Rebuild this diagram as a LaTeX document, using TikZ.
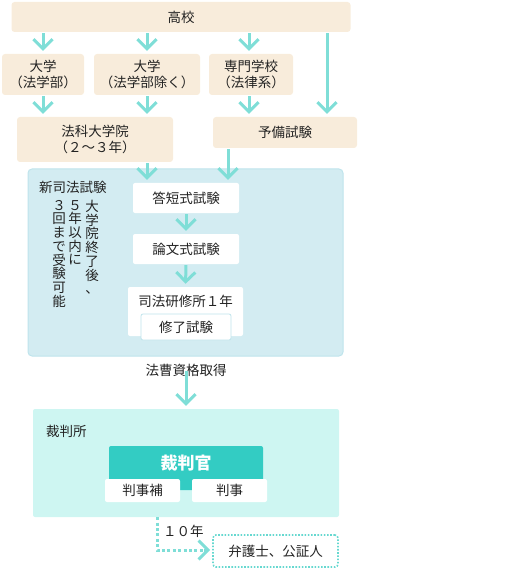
\documentclass[tikz,border=0pt]{standalone}
\usepackage{fontspec}
\setmainfont{Noto Sans CJK JP}
\usetikzlibrary{arrows.meta}
\definecolor{beigeC}{HTML}{F8ECDB}
\definecolor{arrC}{HTML}{7FDED7}
\definecolor{shinC}{HTML}{D3ECF2}
\definecolor{shinB}{HTML}{BFE4EC}
\definecolor{courtC}{HTML}{CEF6F2}
\definecolor{judgeC}{HTML}{33CCC3}
\definecolor{txtC}{HTML}{222222}
\definecolor{dotC}{HTML}{66D8D0}
\tikzset{
  base/.style={font=\fontsize{13.5}{16}\selectfont, text=txtC, inner sep=0pt, align=center},
  beigebox/.style={base, fill=beigeC, rounded corners=3pt},
  whitebox/.style={base, fill=white, rounded corners=2pt},
  chev/.style={-{Straight Barb[length=9.5pt,width=19pt]}},
  arr/.style={draw=arrC, line width=3pt, chev, shorten <=1pt, shorten >=3pt},
  vtext/.style={base, align=center, font=\fontsize{13.5}{13.7}\selectfont},
}
\begin{document}
\begin{tikzpicture}[x=1pt,y=-1pt]
\useasboundingbox (0,0) rectangle (504,569);
% top row
\node[beigebox, minimum width=339, minimum height=30] (koko) at (181,17) {高校};
\node[beigebox, minimum width=82, minimum height=41] (dai1) at (43,74.5) {大学\\（法学部）};
\node[beigebox, minimum width=106, minimum height=41] (dai2) at (147,74.5) {大学\\（法学部除く）};
\node[beigebox, minimum width=84, minimum height=41] (senmon) at (251,74.5) {専門学校\\（法律系）};
\node[beigebox, minimum width=156, minimum height=45] (hoka) at (95,139.5) {法科大学院\\（２～３年）};
\node[beigebox, minimum width=144, minimum height=31] (yobi) at (285,132.5) {予備試験};
% arrows top
\draw[arr] (koko.south -| dai1) -- (dai1.north);
\draw[arr] (koko.south -| dai2) -- (dai2.north);
\draw[arr] ([xshift=-2pt]koko.south -| senmon) -- ([xshift=-2pt]senmon.north);
\draw[arr] ([xshift=42pt]yobi.north |- koko.south) -- ([xshift=42pt]yobi.north);
\draw[arr] (dai1.south) -- (dai1.south |- hoka.north);
\draw[arr] (dai2.south) -- (dai2.south |- hoka.north);
\draw[arr] ([xshift=-2pt]senmon.south) -- ([xshift=-2pt]senmon.south |- yobi.north);
% new bar exam
\node[base, fill=shinC, draw=shinB, line width=1pt, rounded corners=4pt, minimum width=315, minimum height=187] (shin) at (185.5,262.5) {};
\node[base, anchor=west] (shinlbl) at (39,187) {新司法試験};
\node[vtext, anchor=north] (v1) at (92,200) {大\\学\\院\\終\\了\\後\\、};
\node[vtext, anchor=north] (v2) at (75,200) {５\\年\\以\\内\\に};
\node[vtext, anchor=north] (v3) at (59,200) {３\\回\\ま\\で\\受\\験\\可\\能};
\node[whitebox, minimum width=106, minimum height=30] (tan) at (186,198) {答短式試験};
\node[whitebox, minimum width=106, minimum height=30] (ron) at (186,249) {論文式試験};
\node[whitebox, minimum width=115, minimum height=49] (kenshu) at (185.5,311.5) {};
\node[base] (kenshulbl) at (185.5,301) {司法研修所１年};
\node[whitebox, draw=shinB, line width=0.8pt, minimum width=90, minimum height=26] (shuryo) at (186,327) {修了試験};
\draw[arr] ([xshift=52pt]hoka.south) -- ([xshift=-39pt]tan.north);
\draw[arr] ([xshift=-57pt]yobi.south) -- ([xshift=42pt]tan.north);
\draw[arr] (tan.south) -- (ron.north);
\draw[arr] (ron.south) -- (kenshu.north);
% qualification
\node[base] (shikaku) at (186,370) {法曹資格取得};
% court
\node[base, fill=courtC, rounded corners=2pt, minimum width=306, minimum height=108] (court) at (186,463) {};
\draw[arr] ([yshift=6pt]shikaku.south) -- (court.north);
\node[base, anchor=west] (courtlbl) at (46,431) {裁判所};
\node[base, fill=judgeC, rounded corners=2pt, minimum width=154, minimum height=44] (kan) at (186,468) {};
\node[base, text=white, font=\fontsize{17}{20}\selectfont\bfseries] (kanlbl) at (186,463) {裁判官};
\node[whitebox, minimum width=75, minimum height=23] (hanjiho) at (142.5,490.5) {判事補};
\node[whitebox, minimum width=75, minimum height=23] (hanji) at (229.5,490.5) {判事};
% lawyer
\node[base, draw=dotC, line width=1.6pt, dash pattern=on 1.6pt off 1.6pt, rounded corners=3pt, minimum width=125, minimum height=32] (bengo) at (275.5,551) {弁護士、公証人};
\coordinate (turn) at (157,550);
\draw[draw=arrC, line width=3pt, dash pattern=on 3pt off 2.4pt] ([xshift=-29pt]court.south) -- (turn) -- ([xshift=-7pt]bengo.west |- turn);
\draw[draw=arrC, line width=3pt, chev] ([xshift=-8pt]bengo.west |- turn) -- ([xshift=-2pt]bengo.west |- turn);
\node[base, anchor=west] (ten) at (163,531) {１０年};
\end{tikzpicture}
\end{document}
